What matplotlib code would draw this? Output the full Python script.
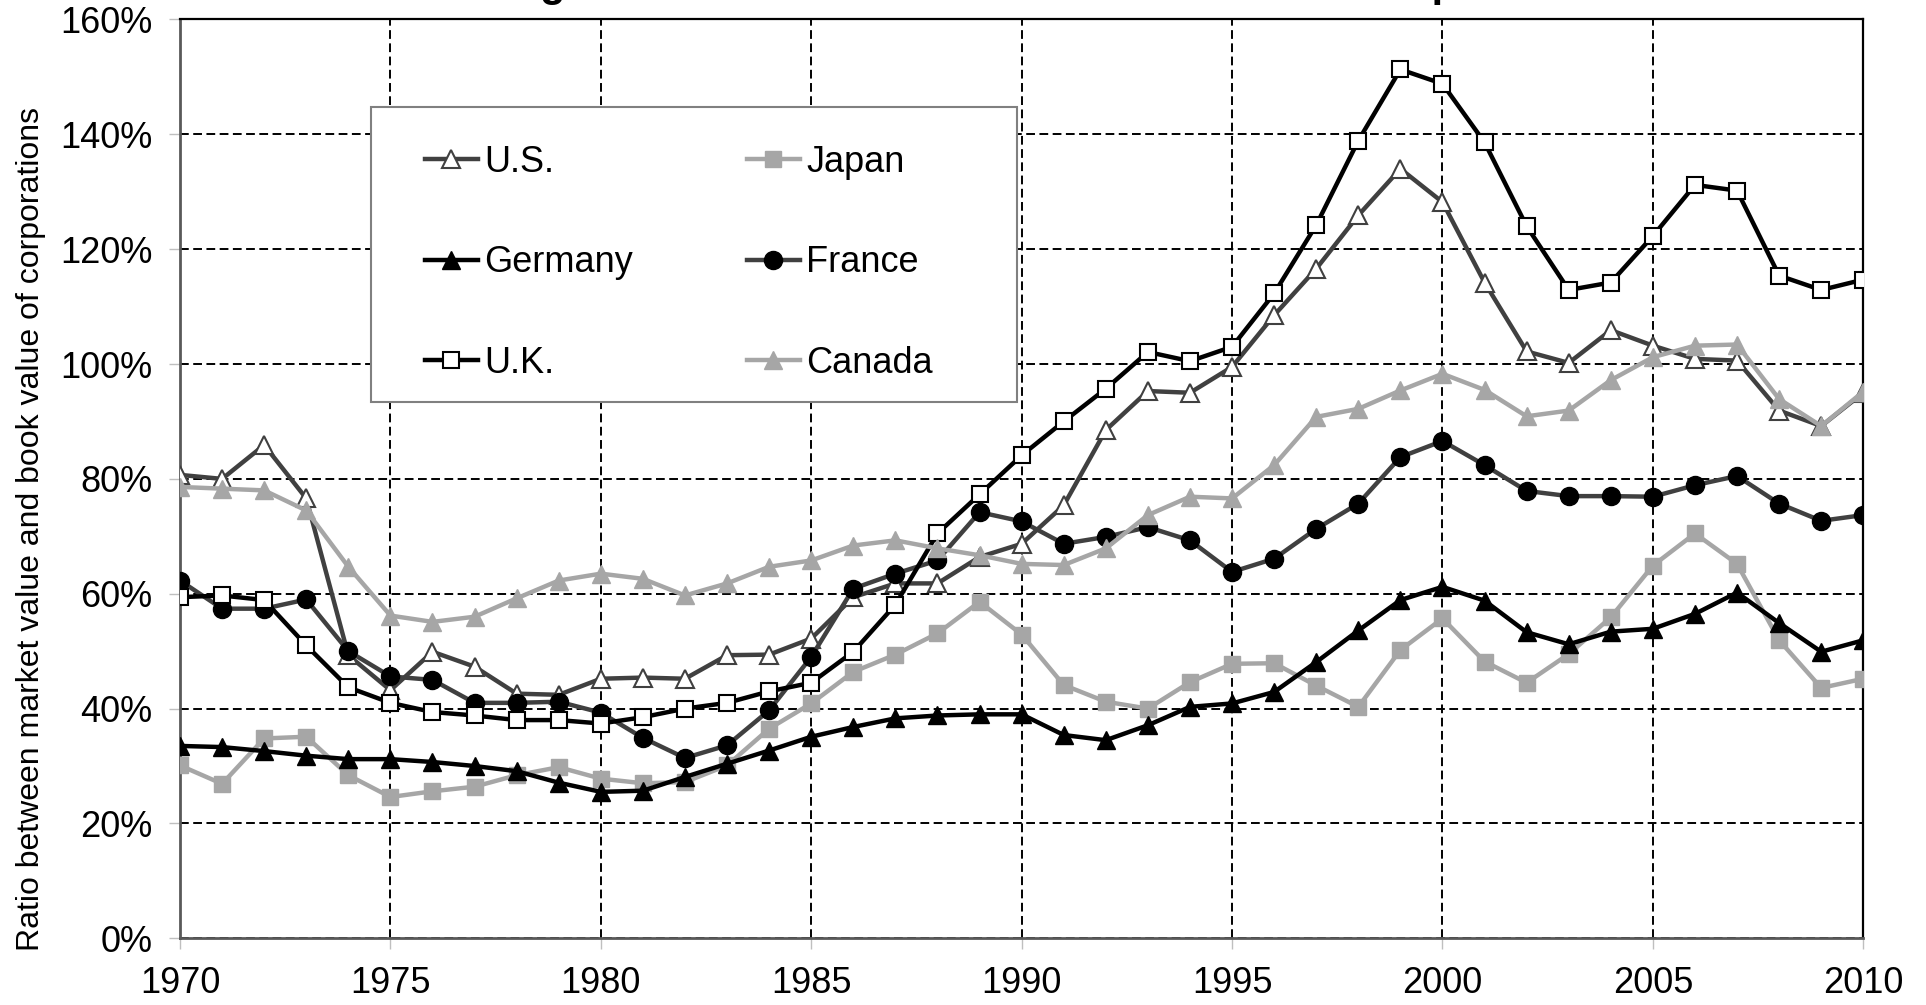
import numpy as np
import matplotlib
matplotlib.use("Agg")
import matplotlib.pyplot as plt
from matplotlib.ticker import PercentFormatter, MultipleLocator
from matplotlib.patches import Rectangle

plt.rcParams['font.family'] = ['Liberation Sans', 'DejaVu Sans']

years = np.arange(1970, 2011)

us = [80.7, 80.0, 85.9, 76.6, 49.3, 43.2, 49.9, 47.3, 42.6, 42.4,
      45.2, 45.4, 45.2, 49.3, 49.4, 52.2, 59.4, 61.8, 61.8, 66.4,
      68.7, 75.4, 88.5, 95.3, 95.0, 99.5, 108.5, 116.6, 125.9, 134.0,
      128.2, 114.2, 102.2, 100.2, 105.9, 103.2, 100.9, 100.6, 91.9, 89.2,
      95.0]
japan = [30.1, 26.9, 34.8, 35.1, 28.4, 24.6, 25.6, 26.4, 28.4, 29.8,
         27.8, 27.0, 27.2, 30.1, 36.5, 40.9, 46.4, 49.4, 53.1, 58.6,
         52.9, 44.1, 41.2, 40.0, 44.6, 47.8, 47.9, 44.0, 40.3, 50.2,
         55.7, 48.2, 44.5, 49.5, 55.9, 64.9, 70.5, 65.2, 51.9, 43.6,
         45.2]
germany = [33.5, 33.3, 32.6, 31.8, 31.2, 31.2, 30.7, 30.0, 29.1, 27.1,
           25.5, 25.7, 28.1, 30.4, 32.7, 35.1, 36.8, 38.3, 38.8, 39.0,
           39.0, 35.4, 34.5, 37.1, 40.3, 40.9, 42.9, 48.1, 53.6, 58.9,
           61.2, 58.8, 53.3, 51.2, 53.4, 53.9, 56.5, 60.2, 54.9, 49.9,
           51.9]
france = [62.3, 57.4, 57.4, 59.0, 50.0, 45.6, 45.0, 41.0, 41.0, 41.2,
          39.3, 34.9, 31.4, 33.6, 39.7, 49.0, 60.9, 63.5, 65.8, 74.2,
          72.6, 68.7, 69.9, 71.6, 69.3, 63.8, 66.1, 71.3, 75.7, 83.8,
          86.6, 82.4, 77.9, 77.0, 77.0, 76.9, 78.9, 80.5, 75.7, 72.7,
          73.7]
uk = [59.4, 59.7, 58.9, 51.0, 43.7, 41.0, 39.4, 38.8, 38.0, 38.0,
      37.4, 38.5, 40.0, 41.0, 43.0, 44.5, 49.9, 58.1, 70.5, 77.3,
      84.1, 90.0, 95.7, 102.1, 100.5, 103.0, 112.3, 124.2, 138.9, 151.3,
      148.8, 138.6, 124.0, 112.9, 114.2, 122.3, 131.2, 130.2, 115.4, 112.9,
      114.7]
canada = [78.6, 78.3, 78.0, 74.5, 64.7, 56.2, 55.1, 56.0, 59.2, 62.3,
          63.5, 62.6, 59.7, 61.8, 64.7, 65.8, 68.4, 69.3, 67.9, 66.7,
          65.2, 65.0, 67.9, 73.7, 76.9, 76.6, 82.4, 90.8, 92.2, 95.4,
          98.3, 95.5, 90.9, 91.9, 97.2, 101.2, 103.2, 103.4, 93.9, 89.2,
          95.2]

dark = "#404040"
light = "#a6a6a6"

fig = plt.figure(figsize=(19.26, 10.05), dpi=100)
ax = fig.add_axes([0.09346, 0.06637, 0.87399, 0.91423])

lw = 3.2
h_us, = ax.plot(years, us, color=dark, lw=lw, marker="^", ms=13,
                mfc="white", mec=dark, mew=1.5, label="U.S.", zorder=3)
h_jp, = ax.plot(years, japan, color=light, lw=lw, marker="s", ms=12,
                mfc=light, mec=light, label="Japan", zorder=3)
h_de, = ax.plot(years, germany, color="black", lw=lw, marker="^", ms=13,
                mfc="black", mec="black", label="Germany", zorder=3)
h_fr, = ax.plot(years, france, color=dark, lw=lw, marker="o", ms=13,
                mfc="black", mec="black", label="France", zorder=3)
h_uk, = ax.plot(years, uk, color="black", lw=lw, marker="s", ms=12,
                mfc="white", mec="black", mew=1.5, label="U.K.", zorder=3)
h_ca, = ax.plot(years, canada, color=light, lw=lw, marker="^", ms=13,
                mfc=light, mec=light, label="Canada", zorder=3)

ax.set_xlim(1970, 2010)
ax.set_ylim(0, 160)
ax.xaxis.set_major_locator(MultipleLocator(5))
ax.yaxis.set_major_locator(MultipleLocator(20))
ax.yaxis.set_major_formatter(PercentFormatter(xmax=100, decimals=0))

ax.set_axisbelow(True)
ax.grid(True, color="black", lw=1.4, linestyle=(0, (4.5, 2.3)))

for s in ["top", "right"]:
    ax.spines[s].set_color("black")
    ax.spines[s].set_linewidth(1.6)
for s in ["left", "bottom"]:
    ax.spines[s].set_color("#595959")
    ax.spines[s].set_linewidth(2)

ax.tick_params(axis="both", direction="out", length=8, width=1,
               color="#bfbfbf", labelsize=26, pad=12)

ax.set_ylabel("Ratio between market value and book value of corporations",
              fontsize=23, va="center")
ax.yaxis.set_label_coords(-0.0883, 0.446)

# legend box (fixed size like the original)
ax.add_patch(Rectangle((0.1137, 0.584), 0.3833, 0.321, transform=ax.transAxes,
                       facecolor="white", edgecolor="#808080", lw=1.5, zorder=5))
leg = ax.legend(handles=[h_us, h_de, h_uk, h_jp, h_fr, h_ca], ncol=2,
                loc="upper left", bbox_to_anchor=(0.1455, 0.8635),
                frameon=False, fontsize=26, borderpad=0, handlelength=1.47,
                handletextpad=0.17, columnspacing=3.15, labelspacing=1.81,
                borderaxespad=0)
leg.set_zorder(6)

# title sits above the top edge, only its descenders show (as in the original)
fig.text(0.5514, 1.0038, "Figure S5.6: Market value vs. book value of corporations",
         ha="center", va="baseline", fontsize=30, fontweight="bold")

fig.savefig("out.png", dpi=100)
